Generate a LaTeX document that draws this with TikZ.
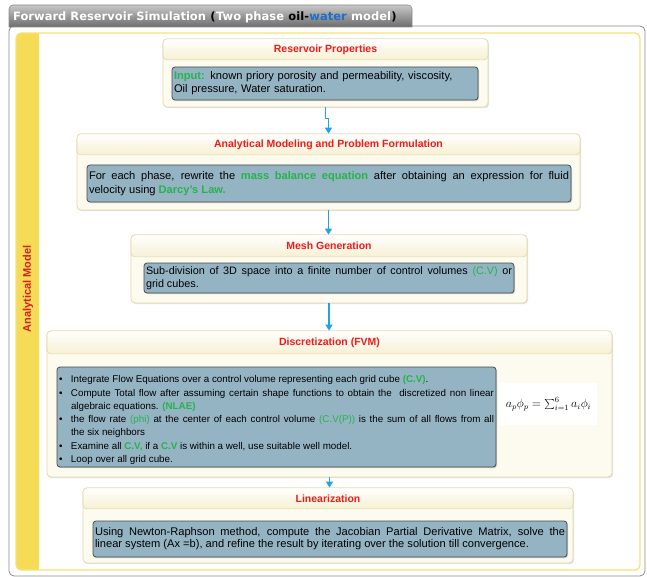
\documentclass[tikz,border=0pt]{standalone}
\usepackage{fontspec}
\setmainfont{Liberation Sans}
\newfontfamily\tabfont{DejaVu Sans}
\usetikzlibrary{arrows.meta,shadows}

\definecolor{framegray}{HTML}{8A8A8A}
\definecolor{tabtop}{HTML}{C8C8C8}
\definecolor{tabbot}{HTML}{6C6C6C}
\definecolor{waterblue}{HTML}{1E6FC8}
\definecolor{yellowline}{HTML}{F6E27E}
\definecolor{band}{HTML}{F6DB57}
\definecolor{modelred}{HTML}{D61F1F}
\definecolor{stageline}{HTML}{E2D8A8}
\definecolor{stagefill}{HTML}{FDFBEF}
\definecolor{headfill}{HTML}{F7F0D3}
\definecolor{titlered}{HTML}{F01A1A}
\definecolor{innerline}{HTML}{4A4A4A}
\definecolor{innerfill}{HTML}{95B4C3}
\definecolor{hlgreen}{HTML}{25B34B}
\definecolor{flowblue}{HTML}{1FA3E4}

% highlighted words inside the step descriptions
\newcommand\gb[1]{\textbf{\textcolor{hlgreen}{#1}}}
\newcommand\gr[1]{\textcolor{hlgreen}{#1}}
% bullet line with hanging indent
\newcommand\bl{\par\noindent\hangindent=12pt\hangafter=1\makebox[12pt][l]{\textbullet}}

\begin{document}
\begin{tikzpicture}[x=1pt,y=-1pt,
  stagebox/.style={draw=stageline, fill=stagefill, rounded corners=4pt, line width=0.8pt,
    drop shadow={opacity=0.22, shadow xshift=1pt, shadow yshift=-1.2pt}},
  headbox/.style={draw=stageline, line width=0.6pt, rounded corners=4pt,
    top color=white, bottom color=headfill, inner sep=0pt,
    font=\bfseries\fontsize{10.5}{12}\selectfont, text=titlered},
  innerbox/.style={draw=innerline, fill=innerfill, rounded corners=3pt, line width=0.8pt,
    inner xsep=2pt, inner ysep=2pt, font=\fontsize{11.1}{13}\selectfont,
    drop shadow={opacity=0.35, shadow xshift=1pt, shadow yshift=-1.2pt}},
  tabtext/.style={anchor=base west, inner sep=0pt, font=\tabfont\bfseries\fontsize{11.5}{13}\selectfont},
  flow/.style={draw=flowblue, line width=1.3pt, -{Triangle[length=6pt,width=7pt]}}]
\useasboundingbox (0,0) rectangle (647,577);

% outer window with its title tab
\draw[framegray, fill=white, line width=0.8pt, rounded corners=5pt] (9,26) rectangle (645,576);
\shade[top color=tabtop, bottom color=tabbot, draw=framegray, line width=0.6pt]
  (9,27) [rounded corners=4pt] -- (9,5) -- (412,5) [sharp corners] -- (412,27) -- cycle;
\node[tabtext, text=white] (t1) at (13,20.5) {Forward Reservoir Simulation};
\node[tabtext, text=black] (t2) at (t1.base east) {\ (};
\node[tabtext, text=white] (t3) at (t2.base east) {Two phase};
\node[tabtext, text=black] (t4) at (t3.base east) {\ oil-};
\node[tabtext, text=waterblue] (t5) at (t4.base east) {water};
\node[tabtext, text=white] (t6) at (t5.base east) {\ model};
\node[tabtext, text=black] (t7) at (t6.base east) {)};

% yellow panel with side band
\fill[band, rounded corners=5pt] (16,33) rectangle (39,570);
\fill[band] (30,33) rectangle (39,570);
\draw[yellowline, line width=1.3pt, rounded corners=5pt] (16,33) rectangle (640,570);
\node[rotate=90, font=\bfseries\fontsize{11}{13}\selectfont, text=modelred] (sidelabel) at (28,289) {Analytical Model};

% step 1
\node[stagebox, minimum width=325pt, minimum height=68pt] (rp) at (325.5,73) {};
\node[headbox, minimum width=325pt, minimum height=21pt, anchor=north] (rph) at (rp.north) {Reservoir Properties};
\node[innerbox, text width=302pt, minimum height=33pt, align=left] (rpi) at (325,83.5)
  {\gb{Input:} known priory porosity and permeability, viscosity,\\Oil pressure, Water saturation.};

% step 2
\node[stagebox, minimum width=503pt, minimum height=76pt] (am) at (328.5,172) {};
\node[headbox, minimum width=503pt, minimum height=21pt, anchor=north] (amh) at (am.north) {Analytical Modeling and Problem Formulation};
\node[innerbox, text width=480pt, minimum height=37pt, align=justify, font=\fontsize{11.1}{13.5}\selectfont] (ami) at (329,183.5)
  {For each phase, rewrite the \gb{mass balance equation} after obtaining an expression for fluid\linebreak
   velocity using \gb{Darcy's Law.}};

% step 3
\node[stagebox, minimum width=396pt, minimum height=68pt] (mg) at (329,269) {};
\node[headbox, minimum width=396pt, minimum height=22pt, anchor=north] (mgh) at (mg.north) {Mesh Generation};
\node[innerbox, text width=366pt, minimum height=30pt, align=justify, font=\fontsize{10.8}{12.5}\selectfont] (mgi) at (329,278)
  {Sub-division of 3D space into a finite number of control volumes \gr{(C.V)} or\linebreak grid cubes.};

% step 4
\node[stagebox, minimum width=565pt, minimum height=146pt] (dz) at (329.5,404) {};
\node[headbox, minimum width=565pt, minimum height=23pt, anchor=north] (dzh) at (dz.north) {Discretization (FVM)};
\node[innerbox, text width=435pt, minimum height=100pt, align=justify, font=\fontsize{9.8}{13.3}\selectfont] (dzi) at (276.5,417)
  {\bl Integrate Flow Equations over a control volume representing each grid cube \gb{(C.V)}.
   \bl Compute Total flow after assuming certain shape functions to obtain the\ \ discretized non linear\linebreak
       algebraic equations. \gb{(NLAE)}
   \bl the flow rate \gr{(phi)} at the center of each control volume \gr{(C.V(P))} is the sum of all flows from all\linebreak
       the six neighbors
   \bl Examine all \gb{C.V,} if a \gb{C.V} is within a well, use suitable well model.
   \bl Loop over all grid cube.};
\node[fill=white, minimum width=97pt, minimum height=42pt, font=\fontsize{11.5}{13}\selectfont] (fx) at (548.5,404)
  {$a_p\phi_p = \sum_{i=1}^{6} a_i\phi_i$};

% step 5
\node[stagebox, minimum width=490pt, minimum height=75pt] (ln) at (328,525.5) {};
\node[headbox, minimum width=490pt, minimum height=21pt, anchor=north] (lnh) at (ln.north) {Linearization};
\node[innerbox, text width=470pt, minimum height=36pt, align=justify, font=\fontsize{11.1}{12}\selectfont] (lni) at (330,539)
  {Using Newton-Raphson method, compute the Jacobian Partial Derivative Matrix, solve the\linebreak
   linear system (Ax =b), and refine the result by iterating over the solution till convergence.};

% connectors
\draw[flow] (rp.south) -- ++(0,11) -| (am.north);
\draw[flow] (am.south) -- (am.south |- mg.north);
\draw[flow] (mg.south) -- (mg.south |- dz.north);
\draw[flow] (dz.south) -- (dz.south |- ln.north);
\end{tikzpicture}
\end{document}
